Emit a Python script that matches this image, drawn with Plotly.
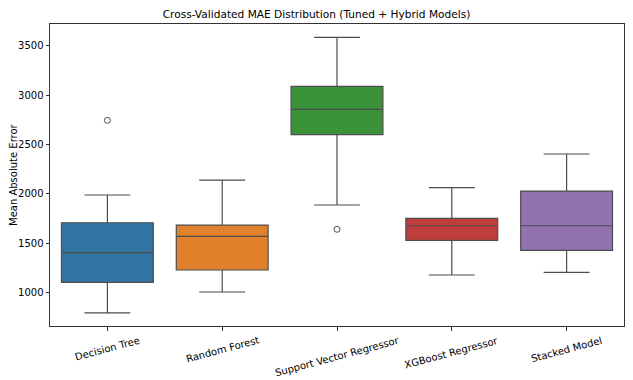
import plotly.graph_objects as go

categories = ["Decision Tree", "Random Forest", "Support Vector Regressor", "XGBoost Regressor", "Stacked Model"]
lower_whisker = [795, 1007, 1888, 1179, 1206]
q1_values = [1105, 1230, 2600, 1530, 1429]
median_values = [1405, 1571, 2856, 1678, 1678]
q3_values = [1708, 1685, 3089, 1753, 2029]
upper_whisker = [1989, 2140, 3585, 2063, 2404]
outlier_cats = ["Decision Tree", "Support Vector Regressor"]
outlier_values = [2745, 1642]
colors = ["#3274a1", "#e1812c", "#3a923a", "#c03d3e", "#9372b2"]
y_ticks = [1000, 1500, 2000, 2500, 3000, 3500]

fig = go.Figure()
for i, cat in enumerate(categories):
    fig.add_trace(go.Box(
        x=[cat], q1=[q1_values[i]], median=[median_values[i]], q3=[q3_values[i]],
        lowerfence=[lower_whisker[i]], upperfence=[upper_whisker[i]],
        fillcolor=colors[i], line=dict(color="#4d4d4d", width=1.2),
        width=0.8, whiskerwidth=0.5, boxpoints=False, showlegend=False,
    ))

fig.add_trace(go.Scatter(
    x=outlier_cats, y=outlier_values, mode="markers",
    marker=dict(symbol="circle-open", size=6, color="#4d4d4d", line=dict(width=1)),
    showlegend=False,
))

for cat in categories:
    fig.add_annotation(
        x=cat, y=0, xref="x", yref="paper", text=cat, showarrow=False,
        textangle=-15, xanchor="center", yanchor="top", yshift=-6,
        font=dict(size=10, color="black"),
    )

fig.add_annotation(
    x=0, y=0.5, xref="paper", yref="paper", text="Mean Absolute Error",
    showarrow=False, textangle=-90, xanchor="center", yanchor="middle",
    xshift=-37, font=dict(size=10, color="black"),
)

fig.update_layout(
    width=633, height=380,
    margin=dict(l=50, r=9, t=24, b=54, autoexpand=False),
    paper_bgcolor="white", plot_bgcolor="white",
    font=dict(family="DejaVu Sans", size=10, color="black"),
    title=dict(text="Cross-Validated MAE Distribution (Tuned + Hybrid Models)",
               x=0.5, xanchor="center", y=1 - 14 / 380, yanchor="middle",
               font=dict(size=10.6)),
    boxmode="overlay",
)
fig.update_xaxes(
    type="category", categoryorder="array", categoryarray=categories,
    range=[-0.5, 4.5], showticklabels=False, automargin=False,
    showline=True, linecolor="#333333", linewidth=1, mirror=True,
    ticks="outside", ticklen=3.5, tickcolor="#333333", showgrid=False,
)
fig.update_yaxes(
    range=[663, 3720], tickvals=y_ticks, automargin=False,
    showline=True, linecolor="#333333", linewidth=1, mirror=True,
    ticks="outside", ticklen=3.5, tickcolor="#333333", showgrid=False, zeroline=False,
    tickfont=dict(size=10),
)

fig.write_html("out.html", config={"displayModeBar": False},
               post_script="document.body.style.margin='0';")
